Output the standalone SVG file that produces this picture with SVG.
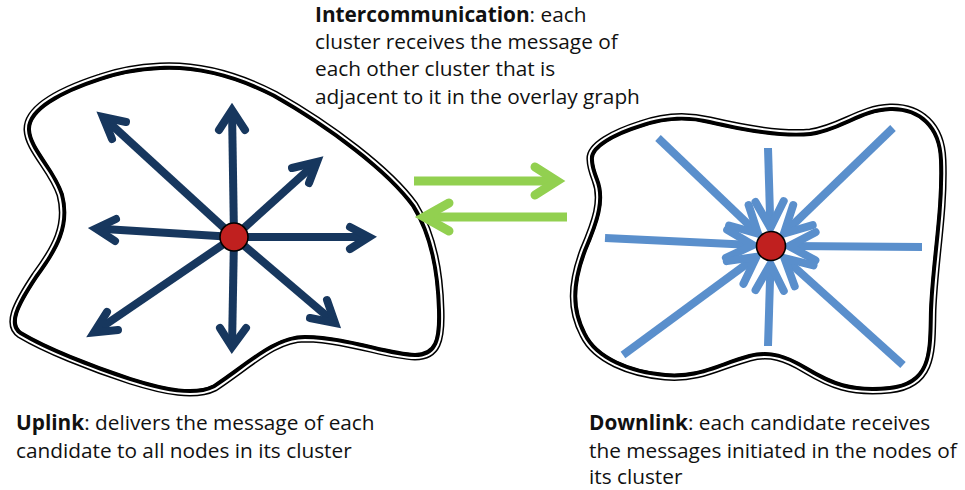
<svg xmlns="http://www.w3.org/2000/svg" xmlns:xlink="http://www.w3.org/1999/xlink" width="965" height="490" viewBox="0 0 965 490">
<style>
.txt{font-family:"Open Sans","Liberation Sans",Arial,sans-serif;font-size:20.8px;fill:#111}
.b{font-weight:bold}
.dk{stroke:#17375e;stroke-width:8;fill:none}
.lt{stroke:#5a8fcc;stroke-width:8;fill:none}
.gr{stroke:#92d050;stroke-width:9;fill:none}
.head{stroke-linecap:round;stroke-linejoin:miter;stroke-miterlimit:10}
.node{fill:#c0201f;stroke:#000;stroke-width:1.6}
</style>
<defs>
<path id="blobL" d="M160,66 C200,64 240,76 275,94 C330,125 390,170 415,205 C432,232 440,270 441,310 C442,340 438,357 415,357 C385,356 350,340 305,339 C275,339 250,365 215,388 C195,398 165,392 130,381 C90,368 45,350 20,335 C5,325 15,305 35,275 C55,248 68,225 60,195 C52,170 28,150 27,130 C26,108 60,90 100,77 C120,70 140,67 160,66 Z"/>
<path id="blobR" d="M590,160 C588,145 615,132 640,124 C665,115 690,115 710,120 C740,127 780,135 810,132 C840,128 860,108 890,107 C920,106 942,125 943,160 C945,210 935,260 933,310 C932,350 935,385 890,390 C850,394 830,385 805,370 C785,358 770,353 750,358 C720,366 700,380 665,377 C630,374 595,360 583,335 C570,310 570,285 583,250 C595,222 603,200 595,180 C592,172 590,165 590,160 Z"/>
<clipPath id="clipL"><use xlink:href="#blobL"/></clipPath>
<clipPath id="clipR"><use xlink:href="#blobR"/></clipPath>
</defs>
<rect width="965" height="490" fill="#fff"/>

<g id="cluster-left">
<use xlink:href="#blobL" fill="#fff" stroke="#000" stroke-width="7"/>
<use xlink:href="#blobL" fill="none" stroke="#fff" stroke-width="4"/>
<use xlink:href="#blobL" fill="none" stroke="#000" stroke-width="8" clip-path="url(#clipL)"/>
</g>
<g id="cluster-right">
<use xlink:href="#blobR" fill="#fff" stroke="#000" stroke-width="7"/>
<use xlink:href="#blobR" fill="none" stroke="#fff" stroke-width="4"/>
<use xlink:href="#blobR" fill="none" stroke="#000" stroke-width="8" clip-path="url(#clipR)"/>
</g>

<g id="connectors">
<g id="uplink-arrows">
<path class="dk" d="M234,237 L232,110"/><path class="dk head" d="M219,130 L232,110 L245,130"/>
<path class="dk" d="M234,237 L103,117"/><path class="dk head" d="M112,139 L103,117 L126,122"/>
<path class="dk" d="M234,237 L317,162"/><path class="dk head" d="M292,168 L317,162 L309,183"/>
<path class="dk" d="M234,237 L96,228.5"/><path class="dk head" d="M116,219 L96,228.5 L115,241"/>
<path class="dk" d="M234,237 L369,237"/><path class="dk head" d="M350,227 L369,237 L350,249"/>
<path class="dk" d="M234,237 L94,332.5"/><path class="dk head" d="M107,312 L94,332.5 L118,330"/>
<path class="dk" d="M234,237 L232,347"/><path class="dk head" d="M220,328 L232,347 L246,328"/>
<path class="dk" d="M234,237 L335,323"/><path class="dk head" d="M327,300 L335,323 L310,318"/>
</g>
<g id="downlink-arrows">
<path class="lt" d="M658,138 L758,233.6"/><path class="lt head" d="M748.6,205.1 L758,233.6 L729.1,225.5"/>
<path class="lt" d="M768,148 L770.4,228"/><path class="lt head" d="M783.7,201.1 L770.4,228 L755.5,201.9"/>
<path class="lt" d="M893,128 L783.9,233.5"/><path class="lt head" d="M812.7,225.2 L783.9,233.5 L793.2,205"/>
<path class="lt" d="M605,238 L753,245.1"/><path class="lt head" d="M727.2,229.8 L753,245.1 L725.9,257.9"/>
<path class="lt" d="M922,247 L789,246.1"/><path class="lt head" d="M815.4,260.3 L789,246.1 L815.6,232.2"/>
<path class="lt" d="M623,355 L756.5,256.7"/><path class="lt head" d="M726.8,261.1 L756.5,256.7 L743.5,283.8"/>
<path class="lt" d="M768,346 L770.5,264"/><path class="lt head" d="M755.6,290.1 L770.5,264 L783.8,290.9"/>
<path class="lt" d="M903,365 L784.4,258.1"/><path class="lt head" d="M794.7,286.3 L784.4,258.1 L813.5,265.4"/>
</g>
<g id="intercommunication-arrows">
<path class="gr" d="M414,181 L557,181"/><path class="gr head" d="M535,167 L557,181 L535,195"/>
<path class="gr" d="M567,217 L424,217"/><path class="gr head" d="M449,203 L424,217 L449,231"/>
</g>
</g>

<g id="node-left"><circle class="node" cx="234" cy="237" r="14"/></g>
<g id="node-right"><circle class="node" cx="771" cy="246" r="14.5"/></g>

<g id="label-intercommunication" class="txt">
<text x="315" y="21.5"><tspan class="b">Intercommunication</tspan>: each</text>
<text x="315" y="48.5">cluster receives the message of</text>
<text x="315" y="76">each other cluster that is</text>
<text x="315" y="103.5">adjacent to it in the overlay graph</text>
</g>
<g id="label-uplink" class="txt">
<text x="16" y="430"><tspan class="b">Uplink</tspan>: delivers the message of each</text>
<text x="16" y="458">candidate to all nodes in its cluster</text>
</g>
<g id="label-downlink" class="txt">
<text x="589" y="430"><tspan class="b">Downlink</tspan>: each candidate receives</text>
<text x="589" y="458">the messages initiated in the nodes of</text>
<text x="589" y="484">its cluster</text>
</g>
</svg>
